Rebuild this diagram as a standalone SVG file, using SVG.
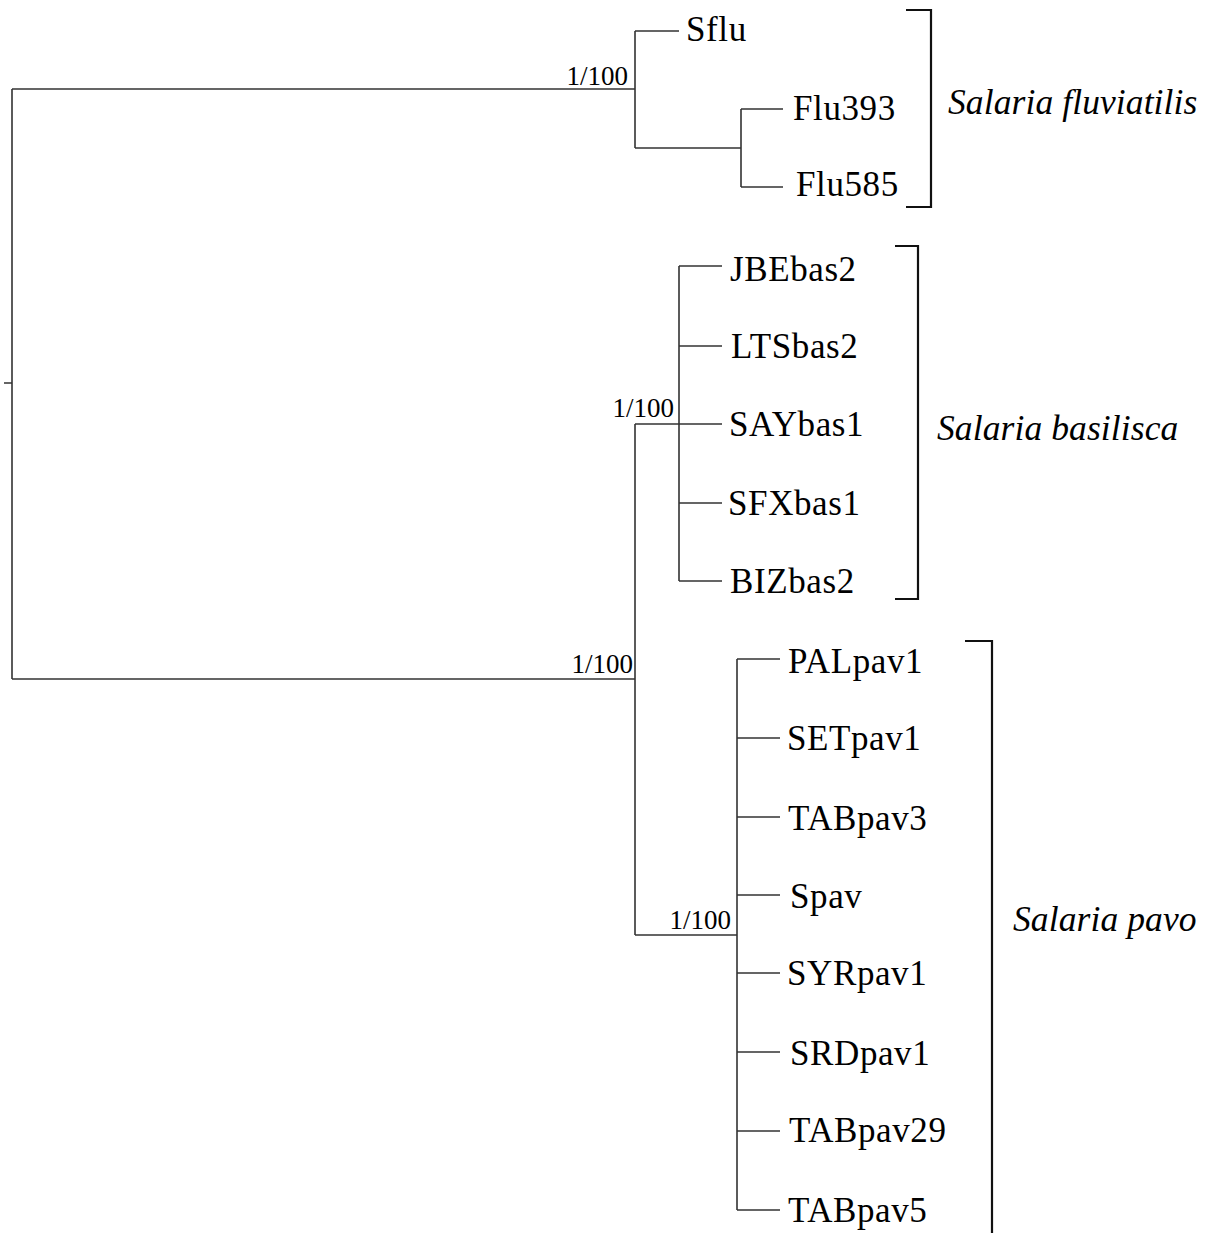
<svg xmlns="http://www.w3.org/2000/svg" width="1209" height="1233" viewBox="0 0 1209 1233">
<style>
.br{fill:none;stroke:#333;stroke-width:1.6}
.bk{fill:none;stroke:#111;stroke-width:2.2}
.tip{font-family:"Liberation Serif",serif;font-size:35px;letter-spacing:0.6px;fill:#000}
.sup{font-family:"Liberation Serif",serif;font-size:27px;fill:#000;text-anchor:end}
.sp{font-family:"Liberation Serif",serif;font-size:35.5px;font-style:italic;letter-spacing:0.1px;fill:#000}
</style>
<rect width="1209" height="1233" fill="#fff"/>
<g id="connectors">
<path class="br" d="M4 383H12M12 89V679M12 89H635M12 679H635"/>
<path class="br" d="M635 31V148M635 31H679M635 148H741M741 109V187M741 109H783M741 187H783"/>
<path class="br" d="M635 424V935M635 424H722M679 266V581M679 266H722M679 346H722M679 503H722M679 581H722"/>
<path class="br" d="M635 935H737M737 659V1210M737 659H780M737 738H780M737 817H780M737 895H780M737 973H780M737 1052H780M737 1131H780M737 1210H780"/>
</g>
<g id="supports">
<text class="sup" x="628" y="85">1/100</text>
<text class="sup" x="674" y="417">1/100</text>
<text class="sup" x="633" y="673">1/100</text>
<text class="sup" x="731" y="929">1/100</text>
</g>
<g id="tip-Sflu"><text class="tip" x="686" y="41">Sflu</text></g>
<g id="tip-Flu393"><text class="tip" x="793" y="120">Flu393</text></g>
<g id="tip-Flu585"><text class="tip" x="796" y="196">Flu585</text></g>
<g id="tip-JBEbas2"><text class="tip" x="730" y="281">JBEbas2</text></g>
<g id="tip-LTSbas2"><text class="tip" x="731" y="358">LTSbas2</text></g>
<g id="tip-SAYbas1"><text class="tip" x="729" y="436">SAYbas1</text></g>
<g id="tip-SFXbas1"><text class="tip" x="728" y="515">SFXbas1</text></g>
<g id="tip-BIZbas2"><text class="tip" x="730" y="593">BIZbas2</text></g>
<g id="tip-PALpav1"><text class="tip" x="788" y="673">PALpav1</text></g>
<g id="tip-SETpav1"><text class="tip" x="787" y="750">SETpav1</text></g>
<g id="tip-TABpav3"><text class="tip" x="788" y="830">TABpav3</text></g>
<g id="tip-Spav"><text class="tip" x="790" y="908">Spav</text></g>
<g id="tip-SYRpav1"><text class="tip" x="787" y="985">SYRpav1</text></g>
<g id="tip-SRDpav1"><text class="tip" x="790" y="1065">SRDpav1</text></g>
<g id="tip-TABpav29"><text class="tip" x="789" y="1142">TABpav29</text></g>
<g id="tip-TABpav5"><text class="tip" x="788" y="1222">TABpav5</text></g>
<g id="clade-fluviatilis">
<path class="bk" d="M906 10H931V207H906"/>
<text class="sp" x="948" y="114">Salaria fluviatilis</text>
</g>
<g id="clade-basilisca">
<path class="bk" d="M895 246H918V599H895"/>
<text class="sp" x="937" y="440">Salaria basilisca</text>
</g>
<g id="clade-pavo">
<path class="bk" d="M965 641H992V1233"/>
<text class="sp" x="1013" y="931">Salaria pavo</text>
</g>
</svg>
